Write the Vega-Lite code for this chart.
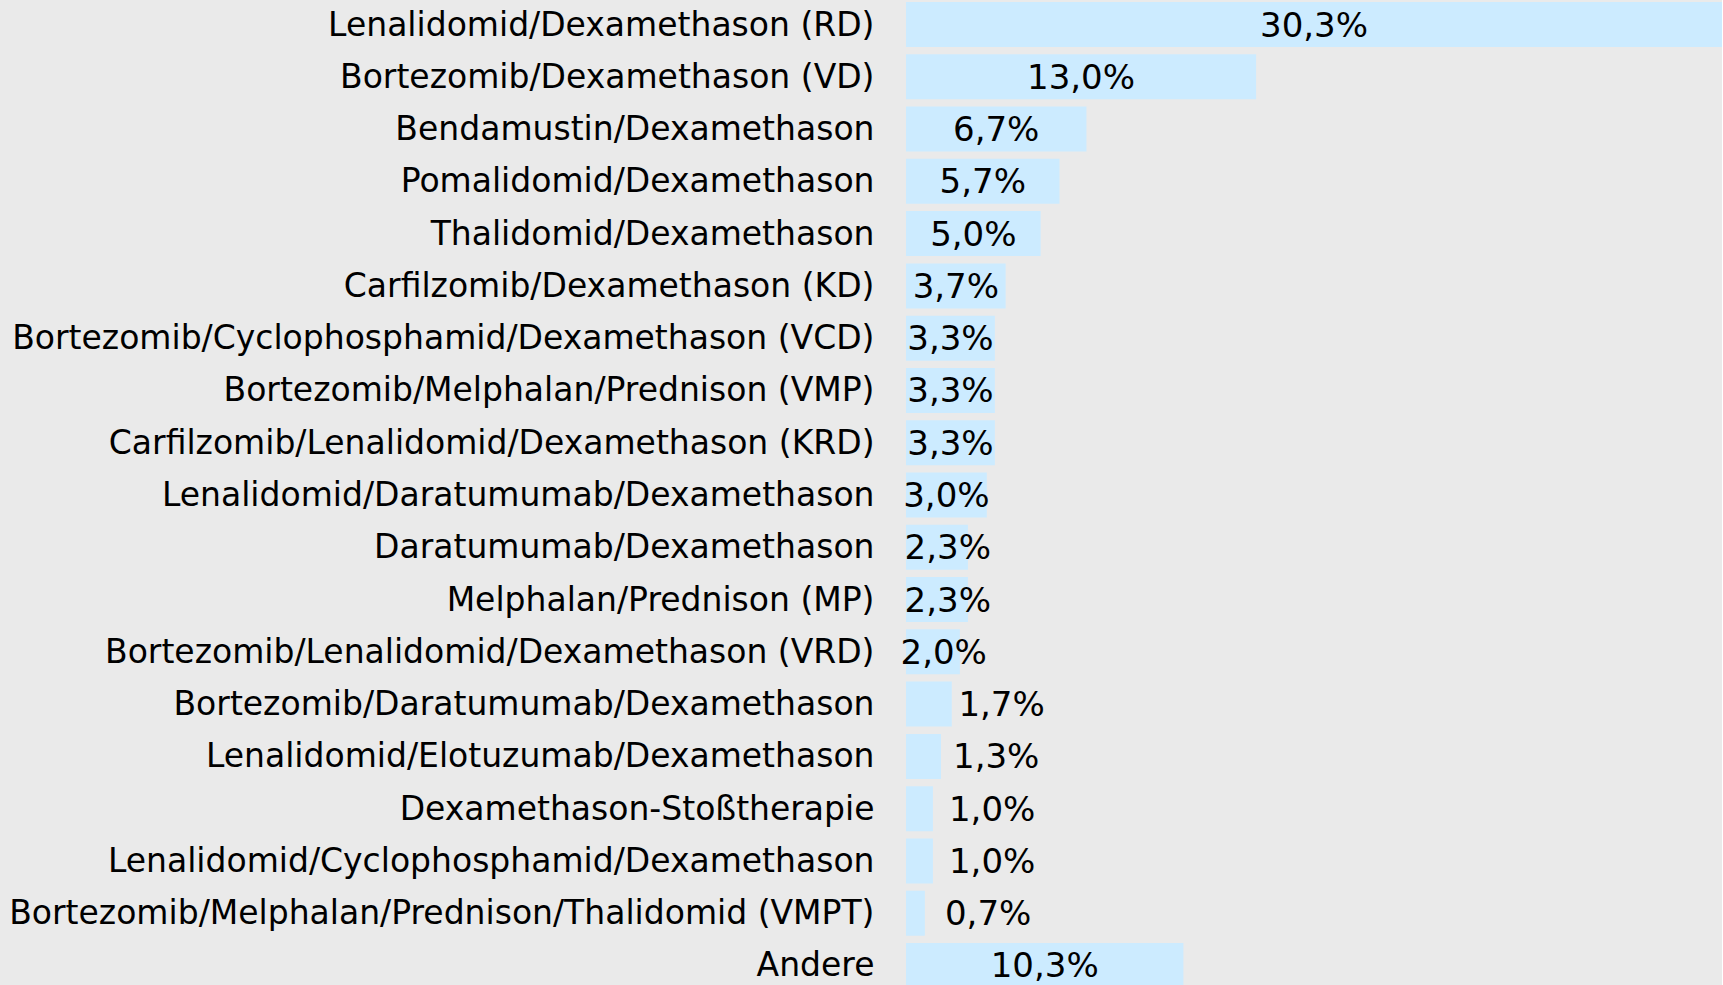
{
  "$schema": "https://vega.github.io/schema/vega-lite/v6.json",
  "autosize": "none",
  "width": 816,
  "height": 986,
  "padding": {"left": 906, "top": 2, "right": 0, "bottom": 0},
  "background": "#EAEAEA",
  "config": {
    "view": {"stroke": null, "fill": "#EAEAEA"},
    "font": "DejaVu Sans",
    "locale": {"number": {"decimal": ",", "thousands": ".", "grouping": [3], "currency": ["", " €"]}}
  },
  "data": {
    "values": [
      {"therapie": "Lenalidomid/Dexamethason (RD)", "anteil": 0.303},
      {"therapie": "Bortezomib/Dexamethason (VD)", "anteil": 0.130},
      {"therapie": "Bendamustin/Dexamethason", "anteil": 0.067},
      {"therapie": "Pomalidomid/Dexamethason", "anteil": 0.057},
      {"therapie": "Thalidomid/Dexamethason", "anteil": 0.050},
      {"therapie": "Carfilzomib/Dexamethason (KD)", "anteil": 0.037},
      {"therapie": "Bortezomib/Cyclophosphamid/Dexamethason (VCD)", "anteil": 0.033},
      {"therapie": "Bortezomib/Melphalan/Prednison (VMP)", "anteil": 0.033},
      {"therapie": "Carfilzomib/Lenalidomid/Dexamethason (KRD)", "anteil": 0.033},
      {"therapie": "Lenalidomid/Daratumumab/Dexamethason", "anteil": 0.030},
      {"therapie": "Daratumumab/Dexamethason", "anteil": 0.023},
      {"therapie": "Melphalan/Prednison (MP)", "anteil": 0.023},
      {"therapie": "Bortezomib/Lenalidomid/Dexamethason (VRD)", "anteil": 0.020},
      {"therapie": "Bortezomib/Daratumumab/Dexamethason", "anteil": 0.017},
      {"therapie": "Lenalidomid/Elotuzumab/Dexamethason", "anteil": 0.013},
      {"therapie": "Dexamethason-Stoßtherapie", "anteil": 0.010},
      {"therapie": "Lenalidomid/Cyclophosphamid/Dexamethason", "anteil": 0.010},
      {"therapie": "Bortezomib/Melphalan/Prednison/Thalidomid (VMPT)", "anteil": 0.007},
      {"therapie": "Andere", "anteil": 0.103}
    ]
  },
  "encoding": {
    "y": {
      "field": "therapie",
      "type": "nominal",
      "sort": null,
      "scale": {"paddingInner": 0.139, "paddingOuter": 0},
      "axis": {
        "title": null,
        "domain": false,
        "ticks": false,
        "labelPadding": 32,
        "labelFontSize": 33,
        "labelColor": "#000000",
        "labelFont": "DejaVu Sans",
        "labelLimit": 1000,
        "labelOffset": 1
      }
    }
  },
  "layer": [
    {
      "mark": {"type": "bar", "color": "#CCEBFF"},
      "encoding": {
        "x": {"field": "anteil", "type": "quantitative", "scale": {"domain": [0, 0.303], "nice": false, "zero": true}, "axis": null}
      }
    },
    {
      "transform": [{"filter": "datum.anteil >= 0.025"}],
      "mark": {"type": "text", "fontSize": 34, "color": "#000000", "align": "center", "baseline": "middle", "dy": 2},
      "encoding": {
        "x": {"field": "anteil", "type": "quantitative", "scale": {"domain": [0, 0.606], "nice": false, "zero": false}, "axis": null},
        "text": {"field": "anteil", "type": "quantitative", "format": ".1%"}
      }
    },
    {
      "transform": [{"filter": "datum.anteil >= 0.02 && datum.anteil < 0.025"}],
      "mark": {"type": "text", "fontSize": 34, "color": "#000000", "align": "center", "baseline": "middle", "dy": 2},
      "encoding": {
        "x": {"field": "anteil", "type": "quantitative", "scale": {"domain": [-0.008, 0.598], "nice": false, "zero": false}, "axis": null},
        "text": {"field": "anteil", "type": "quantitative", "format": ".1%"}
      }
    },
    {
      "transform": [{"filter": "datum.anteil < 0.02"}],
      "mark": {"type": "text", "fontSize": 34, "color": "#000000", "align": "center", "baseline": "middle", "dy": 2},
      "encoding": {
        "x": {"field": "anteil", "type": "quantitative", "scale": {"domain": [-0.054, 0.552], "nice": false, "zero": false}, "axis": null},
        "text": {"field": "anteil", "type": "quantitative", "format": ".1%"}
      }
    }
  ],
  "resolve": {"scale": {"x": "independent"}}
}
